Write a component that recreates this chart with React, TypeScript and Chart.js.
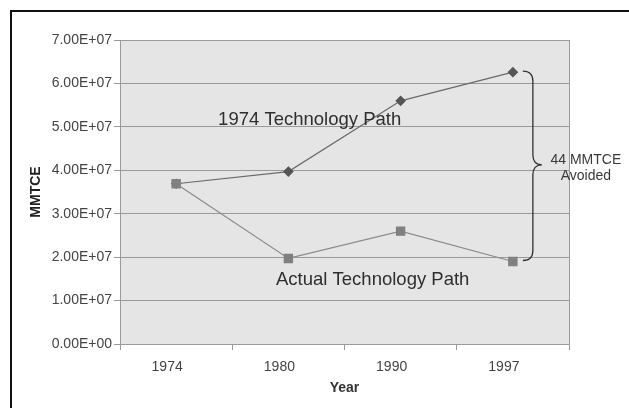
import React, { useEffect, useRef } from "react";
import { Chart, registerables } from "chart.js";

Chart.register(...registerables);

const years = ["1974", "1980", "1990", "1997"];
const path1974 = [3.69e7, 3.97e7, 5.6e7, 6.26e7];
const actualPath = [3.69e7, 1.97e7, 2.6e7, 1.9e7];
const yTickLabels = [
  "0.00E+00",
  "1.00E+07",
  "2.00E+07",
  "3.00E+07",
  "4.00E+07",
  "5.00E+07",
  "6.00E+07",
  "7.00E+07",
];
const label1974 = "1974 Technology Path";
const labelActual = "Actual Technology Path";
const avoidedLines = ["44 MMTCE", "Avoided"];

const FONT = "'Liberation Sans', Arial, sans-serif";

const decorPlugin = {
  id: "decor",
  beforeDraw(chart: any) {
    const { ctx, chartArea } = chart;
    ctx.save();
    ctx.fillStyle = "#e5e5e5";
    ctx.fillRect(chartArea.left, chartArea.top, chartArea.right - chartArea.left, chartArea.bottom - chartArea.top);
    ctx.restore();
  },
  afterDatasetsDraw(chart: any) {
    const { ctx, chartArea, scales } = chart;
    const xs = scales.x;
    const ys = scales.y;
    ctx.save();
    // right border of plot
    ctx.strokeStyle = "#9a9a9a";
    ctx.lineWidth = 1;
    ctx.beginPath();
    ctx.moveTo(Math.round(chartArea.right) + 0.5, chartArea.top);
    ctx.lineTo(Math.round(chartArea.right) + 0.5, chartArea.bottom + 6);
    ctx.stroke();

    // series labels
    ctx.fillStyle = "#2e2e2e";
    ctx.font = `18.5px ${FONT}`;
    ctx.textAlign = "left";
    ctx.textBaseline = "alphabetic";
    ctx.fillText(label1974, xs.getPixelForValue(0.374), ys.getPixelForValue(5.04e7));
    ctx.fillText(labelActual, xs.getPixelForValue(0.89), ys.getPixelForValue(1.36e7));

    // brace
    const last = years.length - 1;
    const px = xs.getPixelForValue(last);
    const top = ys.getPixelForValue(path1974[last]) - 1;
    const bottom = ys.getPixelForValue(actualPath[last]) - 1;
    const mid = (top + bottom) / 2 - 1;
    const x0 = px + 10;
    const x1 = px + 20;
    const x2 = px + 29;
    const r = 10;
    ctx.strokeStyle = "#333";
    ctx.lineWidth = 1.3;
    ctx.beginPath();
    ctx.moveTo(x0, top);
    ctx.quadraticCurveTo(x1, top, x1, top + r);
    ctx.lineTo(x1, mid - r);
    ctx.quadraticCurveTo(x1, mid, x2, mid);
    ctx.quadraticCurveTo(x1, mid, x1, mid + r);
    ctx.lineTo(x1, bottom - r);
    ctx.quadraticCurveTo(x1, bottom, x0, bottom);
    ctx.stroke();

    ctx.fillStyle = "#3a3a3a";
    ctx.font = `14px ${FONT}`;
    ctx.textAlign = "center";
    ctx.textBaseline = "middle";
    ctx.fillText(avoidedLines[0], px + 73, mid - 5);
    ctx.fillText(avoidedLines[1], px + 73, mid + 11);
    ctx.restore();
  },
};

export default function App() {
  const ref = useRef<HTMLCanvasElement>(null);
  useEffect(() => {
    if (!ref.current) return;
    const chart = new Chart(ref.current, {
      type: "line",
      data: {
        labels: years,
        datasets: [
          {
            label: "Actual Technology Path",
            data: actualPath,
            borderColor: "#8a8a8a",
            backgroundColor: "#808080",
            pointBackgroundColor: "#808080",
            pointBorderColor: "#808080",
            pointStyle: "rect",
            pointRadius: 5.8,
            borderWidth: 1.2,
            tension: 0,
          },
          {
            label: "1974 Technology Path",
            data: path1974,
            borderColor: "#6a6a6a",
            backgroundColor: "#555",
            pointBackgroundColor: "#555",
            pointBorderColor: "#555",
            pointStyle: "rectRot",
            pointRadius: 4.5,
            borderWidth: 1.2,
            tension: 0,
          },
        ],
      },
      options: {
        animation: false,
        responsive: false,
        layout: { padding: { left: 0, right: 60, top: 40, bottom: 0 } },
        plugins: { legend: { display: false }, tooltip: { enabled: false } },
        scales: {
          x: {
            offset: true,
            grid: { offset: true, drawOnChartArea: false, drawTicks: true, tickLength: 6, color: "#9a9a9a" },
            border: { color: "#9a9a9a" },
            ticks: { color: "#444", font: { family: FONT, size: 14 }, padding: 9, labelOffset: -9, maxRotation: 0 },
            title: { display: true, text: "Year", color: "#333", font: { family: FONT, size: 14, weight: "bold" }, padding: { bottom: 11.6, top: 0 } },
            afterFit(scale: any) {
              scale.height = 64;
            },
          },
          y: {
            min: 0,
            max: 7e7,
            grid: { color: "#9a9a9a", tickLength: 6 },
            border: { color: "#9a9a9a" },
            ticks: {
              stepSize: 1e7,
              color: "#444",
              padding: 2,
              font: { family: FONT, size: 14 },
              callback: (_v: any, i: number) => yTickLabels[i],
            },
            title: { display: true, text: "MMTCE", color: "#222", font: { family: FONT, size: 14, weight: "bold" }, padding: { top: 27.6, bottom: 0 } },
            afterFit(scale: any) {
              scale.width = 120;
            },
          },
        },
      },
      plugins: [decorPlugin],
    } as any);
    return () => chart.destroy();
  }, []);
  return (
    <div style={{ position: "fixed", left: 0, top: 0, width: 629, height: 408, background: "#fff", overflow: "hidden" }}>
      <canvas ref={ref} width={629} height={408} style={{ display: "block" }} />
      <div
        style={{
          position: "absolute",
          left: 10,
          top: 10,
          width: 640,
          height: 420,
          borderTop: "2px solid #111",
          borderLeft: "2px solid #111",
          pointerEvents: "none",
        }}
      />
    </div>
  );
}
